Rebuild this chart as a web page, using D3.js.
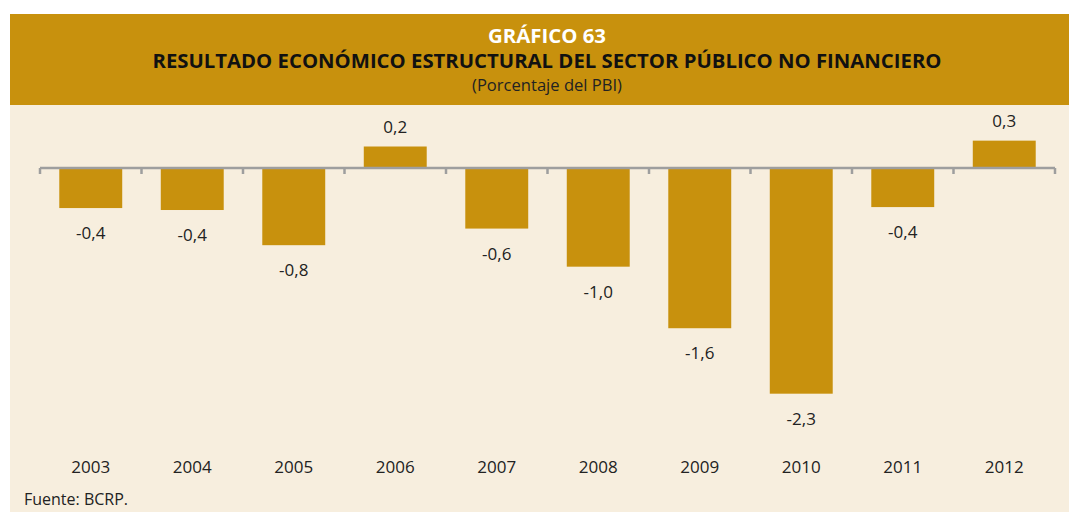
<!DOCTYPE html>
<html>
<head>
<meta charset="utf-8">
<script src="https://cdn.jsdelivr.net/npm/d3@7"></script>
<style>
  body { margin: 0; background: #fff; }
  svg { display: block; font-family: "Open Sans", "Noto Sans", sans-serif; }
</style>
</head>
<body>
<script>
var years = ["2003", "2004", "2005", "2006", "2007", "2008", "2009", "2010", "2011", "2012"];
var values = [-0.41, -0.43, -0.79, 0.22, -0.62, -1.01, -1.64, -2.31, -0.40, 0.28];

var svgWidth = 1069;
var svgHeight = 512;
var gold = "#c8910d";
var cream = "#f7eede";

var svg = d3.select("body")
  .append("svg")
  .attr("width", svgWidth)
  .attr("height", svgHeight);

// panel + header band
svg.append("rect")
  .attr("x", 10).attr("y", 14)
  .attr("width", svgWidth - 10).attr("height", svgHeight - 14)
  .attr("fill", cream);

svg.append("rect")
  .attr("x", 10).attr("y", 14)
  .attr("width", svgWidth - 10).attr("height", 91)
  .attr("fill", gold);

var cx = 547;
svg.append("text")
  .attr("x", cx).attr("y", 43)
  .attr("text-anchor", "middle")
  .attr("font-size", 20).attr("font-weight", "bold")
  .attr("fill", "#fff")
  .attr("textLength", 118).attr("lengthAdjust", "spacingAndGlyphs")
  .text("GRÁFICO 63");

svg.append("text")
  .attr("x", cx).attr("y", 68)
  .attr("text-anchor", "middle")
  .attr("font-size", 20).attr("font-weight", "bold")
  .attr("fill", "#111")
  .attr("textLength", 789).attr("lengthAdjust", "spacingAndGlyphs")
  .text("RESULTADO ECONÓMICO ESTRUCTURAL DEL SECTOR PÚBLICO NO FINANCIERO");

svg.append("text")
  .attr("x", cx).attr("y", 91)
  .attr("text-anchor", "middle")
  .attr("font-size", 16)
  .attr("fill", "#222")
  .attr("textLength", 150).attr("lengthAdjust", "spacingAndGlyphs")
  .text("(Porcentaje del PBI)");

// scales
var x = d3.scaleBand()
  .domain(years)
  .range([40, 1055])
  .paddingInner(0.38)
  .paddingOuter(0.19);

var y = d3.scaleLinear()
  .domain([0.5, -2.5])
  .range([168 - 0.5 * 97.7, 168 + 2.5 * 97.7]);

var data = years.map(function (d, i) { return { year: d, value: values[i] }; });
var fmt = d3.format(".1f");

// bars
svg.selectAll(".bar")
  .data(data)
  .enter()
  .append("rect")
  .attr("class", "bar")
  .attr("x", d => x(d.year))
  .attr("y", d => y(Math.max(0, d.value)))
  .attr("width", x.bandwidth())
  .attr("height", d => Math.abs(y(d.value) - y(0)))
  .attr("fill", gold);

// value labels (hyphen and decimal comma, as in the original)
svg.selectAll(".val")
  .data(data)
  .enter()
  .append("text")
  .attr("class", "val")
  .attr("x", d => x(d.year) + x.bandwidth() / 2)
  .attr("y", d => d.value < 0 ? y(d.value) + 31 : y(d.value) - 14)
  .attr("text-anchor", "middle")
  .attr("font-size", 17)
  .attr("fill", "#222")
  .text(d => fmt(d.value).replace("\u2212", "-").replace(".", ","));

// zero line with ticks at band boundaries
var gap = (x.step() - x.bandwidth()) / 2;
var bounds = years.map(d => x(d) - gap).concat([x.range()[1]]);

var zero = svg.append("g").attr("stroke", "#9e9e9e").attr("stroke-width", 2.5);
zero.append("line")
  .attr("x1", x.range()[0]).attr("x2", x.range()[1])
  .attr("y1", y(0)).attr("y2", y(0));
zero.selectAll(".tick")
  .data(bounds)
  .enter()
  .append("line")
  .attr("x1", d => d).attr("x2", d => d)
  .attr("y1", y(0)).attr("y2", y(0) + 6);

// year labels
var xAxis = d3.axisBottom(x).tickSize(0).tickPadding(0);
var gx = svg.append("g")
  .attr("transform", "translate(0, 461)")
  .call(xAxis);
gx.select(".domain").remove();
gx.selectAll("text")
  .attr("font-size", 17)
  .attr("font-family", "\"Open Sans\", \"Noto Sans\", sans-serif")
  .attr("fill", "#222");

svg.append("text")
  .attr("x", 24).attr("y", 505)
  .attr("font-size", 16)
  .attr("fill", "#222")
  .text("Fuente: BCRP.");
</script>
</body>
</html>
